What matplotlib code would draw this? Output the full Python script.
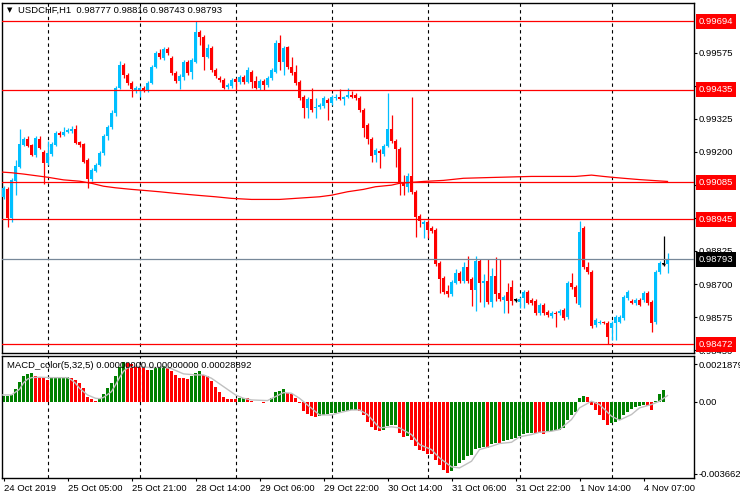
import numpy as np
import matplotlib
matplotlib.use('Agg')
import matplotlib.pyplot as plt
import matplotlib.transforms as mtransforms

plt.rcParams['font.family'] = ['Liberation Sans', 'DejaVu Sans']
plt.rcParams['font.size'] = 6.8

# USDCHF H1 candles
opens = [
    0.99029, 0.99059, 0.98949, 0.99089, 0.99142, 0.99225, 0.99248, 0.99225, 0.99188, 0.99248,
    0.99199, 0.99157, 0.99191, 0.99225, 0.99271, 0.99263, 0.99274, 0.99278, 0.99286, 0.99237,
    0.99229, 0.99169, 0.99097, 0.99127, 0.99150, 0.99195, 0.99259, 0.99293, 0.99346, 0.99441,
    0.99528, 0.99490, 0.99460, 0.99429, 0.99433, 0.99441, 0.99429, 0.99460, 0.99520, 0.99573,
    0.99554, 0.99588, 0.99554, 0.99497, 0.99467, 0.99482, 0.99539, 0.99501, 0.99539, 0.99652,
    0.99634, 0.99558, 0.99592, 0.99509, 0.99479, 0.99471, 0.99445, 0.99448, 0.99475, 0.99463,
    0.99482, 0.99463, 0.99501, 0.99467, 0.99441, 0.99467, 0.99452, 0.99479, 0.99501, 0.99611,
    0.99539, 0.99596, 0.99520, 0.99501, 0.99463, 0.99407, 0.99365, 0.99399, 0.99365, 0.99369,
    0.99373, 0.99395, 0.99384, 0.99403, 0.99407, 0.99399, 0.99407, 0.99414, 0.99414, 0.99403,
    0.99358, 0.99301, 0.99248, 0.99188, 0.99203, 0.99191, 0.99222, 0.99286, 0.99240, 0.99210,
    0.99085, 0.99067, 0.99108, 0.99048, 0.98957, 0.98927, 0.98934, 0.98912, 0.98904, 0.98779,
    0.98723, 0.98673, 0.98662, 0.98704, 0.98741, 0.98711, 0.98764, 0.98719, 0.98677, 0.98787,
    0.98704, 0.98711, 0.98632, 0.98730, 0.98666, 0.98639, 0.98670, 0.98689, 0.98639, 0.98632,
    0.98647, 0.98670, 0.98639, 0.98636, 0.98590, 0.98620, 0.98594, 0.98579, 0.98590, 0.98590,
    0.98602, 0.98575, 0.98704, 0.98689, 0.98620, 0.98912, 0.98764, 0.98745, 0.98545, 0.98553,
    0.98556, 0.98553, 0.98534, 0.98553, 0.98556, 0.98571, 0.98647, 0.98636, 0.98628, 0.98639,
    0.98639, 0.98666, 0.98632, 0.98556, 0.98745, 0.98776, 0.98777]
closes = [
    0.99063, 0.98949, 0.99093, 0.99146, 0.99229, 0.99248, 0.99222, 0.99188, 0.99252, 0.99214,
    0.99157, 0.99195, 0.99229, 0.99271, 0.99263, 0.99274, 0.99282, 0.99286, 0.99233, 0.99225,
    0.99161, 0.99097, 0.99131, 0.99150, 0.99195, 0.99259, 0.99293, 0.99346, 0.99441, 0.99528,
    0.99490, 0.99460, 0.99437, 0.99441, 0.99441, 0.99433, 0.99460, 0.99520, 0.99573, 0.99558,
    0.99588, 0.99573, 0.99497, 0.99467, 0.99486, 0.99539, 0.99497, 0.99547, 0.99652, 0.99634,
    0.99558, 0.99592, 0.99509, 0.99486, 0.99471, 0.99441, 0.99452, 0.99471, 0.99463, 0.99482,
    0.99463, 0.99509, 0.99463, 0.99441, 0.99467, 0.99452, 0.99479, 0.99509, 0.99611, 0.99539,
    0.99592, 0.99520, 0.99497, 0.99460, 0.99403, 0.99365, 0.99399, 0.99358, 0.99369, 0.99377,
    0.99403, 0.99384, 0.99407, 0.99407, 0.99399, 0.99407, 0.99414, 0.99407, 0.99403, 0.99358,
    0.99290, 0.99248, 0.99184, 0.99206, 0.99195, 0.99222, 0.99286, 0.99240, 0.99210, 0.99078,
    0.99070, 0.99108, 0.99048, 0.98953, 0.98938, 0.98934, 0.98904, 0.98900, 0.98776, 0.98719,
    0.98670, 0.98662, 0.98707, 0.98741, 0.98711, 0.98764, 0.98711, 0.98677, 0.98787, 0.98704,
    0.98711, 0.98632, 0.98730, 0.98662, 0.98643, 0.98651, 0.98636, 0.98636, 0.98639, 0.98643,
    0.98670, 0.98628, 0.98628, 0.98590, 0.98620, 0.98590, 0.98583, 0.98590, 0.98586, 0.98598,
    0.98571, 0.98704, 0.98689, 0.98651, 0.98896, 0.98764, 0.98745, 0.98541, 0.98564, 0.98556,
    0.98553, 0.98500, 0.98553, 0.98575, 0.98575, 0.98651, 0.98670, 0.98628, 0.98639, 0.98620,
    0.98666, 0.98628, 0.98553, 0.98745, 0.98779, 0.98776, 0.98793]
highs = [
    0.99070, 0.99067, 0.99101, 0.99169, 0.99286, 0.99256, 0.99259, 0.99229, 0.99259, 0.99259,
    0.99206, 0.99240, 0.99237, 0.99278, 0.99278, 0.99293, 0.99290, 0.99297, 0.99301, 0.99240,
    0.99233, 0.99176, 0.99138, 0.99157, 0.99203, 0.99267, 0.99301, 0.99358, 0.99448, 0.99543,
    0.99535, 0.99497, 0.99467, 0.99448, 0.99448, 0.99448, 0.99467, 0.99528, 0.99581, 0.99588,
    0.99596, 0.99596, 0.99562, 0.99505, 0.99494, 0.99547, 0.99547, 0.99554, 0.99694, 0.99660,
    0.99641, 0.99607, 0.99600, 0.99516, 0.99486, 0.99479, 0.99460, 0.99479, 0.99479, 0.99490,
    0.99490, 0.99520, 0.99509, 0.99486, 0.99475, 0.99475, 0.99486, 0.99516, 0.99622, 0.99641,
    0.99600, 0.99600, 0.99558, 0.99528, 0.99471, 0.99414, 0.99407, 0.99441, 0.99403, 0.99384,
    0.99411, 0.99403, 0.99414, 0.99418, 0.99437, 0.99411, 0.99441, 0.99429, 0.99422, 0.99411,
    0.99365, 0.99309, 0.99256, 0.99214, 0.99210, 0.99229, 0.99422, 0.99339, 0.99248, 0.99218,
    0.99112, 0.99119, 0.99407, 0.99055, 0.98965, 0.98942, 0.98942, 0.98919, 0.98912, 0.98787,
    0.98730, 0.98696, 0.98715, 0.98757, 0.98749, 0.98783, 0.98806, 0.98726, 0.98806, 0.98794,
    0.98738, 0.98794, 0.98760, 0.98802, 0.98794, 0.98658, 0.98704, 0.98715, 0.98647, 0.98651,
    0.98677, 0.98677, 0.98647, 0.98643, 0.98628, 0.98628, 0.98602, 0.98598, 0.98598, 0.98605,
    0.98609, 0.98711, 0.98741, 0.98696, 0.98938, 0.98919, 0.98783, 0.98753, 0.98571, 0.98564,
    0.98560, 0.98560, 0.98560, 0.98583, 0.98583, 0.98658, 0.98677, 0.98643, 0.98647, 0.98647,
    0.98673, 0.98673, 0.98639, 0.98753, 0.98787, 0.98881, 0.98816]
lows = [
    0.99021, 0.98915, 0.98934, 0.99036, 0.99138, 0.99222, 0.99218, 0.99184, 0.99180, 0.99210,
    0.99078, 0.99150, 0.99184, 0.99222, 0.99256, 0.99259, 0.99271, 0.99271, 0.99229, 0.99218,
    0.99157, 0.99063, 0.99089, 0.99123, 0.99146, 0.99188, 0.99244, 0.99286, 0.99335, 0.99437,
    0.99479, 0.99452, 0.99407, 0.99422, 0.99407, 0.99426, 0.99426, 0.99456, 0.99516, 0.99550,
    0.99547, 0.99566, 0.99490, 0.99460, 0.99437, 0.99471, 0.99490, 0.99475, 0.99535, 0.99603,
    0.99509, 0.99554, 0.99501, 0.99479, 0.99463, 0.99437, 0.99437, 0.99441, 0.99433, 0.99456,
    0.99456, 0.99460, 0.99441, 0.99437, 0.99433, 0.99433, 0.99445, 0.99471, 0.99497, 0.99509,
    0.99490, 0.99513, 0.99490, 0.99452, 0.99395, 0.99327, 0.99327, 0.99350, 0.99327, 0.99361,
    0.99365, 0.99320, 0.99377, 0.99395, 0.99395, 0.99377, 0.99403, 0.99403, 0.99395, 0.99350,
    0.99256, 0.99229, 0.99161, 0.99161, 0.99138, 0.99184, 0.99218, 0.99233, 0.99142, 0.99036,
    0.99036, 0.99048, 0.99040, 0.98878, 0.98915, 0.98874, 0.98874, 0.98893, 0.98768, 0.98666,
    0.98662, 0.98651, 0.98655, 0.98700, 0.98704, 0.98704, 0.98704, 0.98617, 0.98598, 0.98632,
    0.98613, 0.98624, 0.98613, 0.98636, 0.98636, 0.98590, 0.98590, 0.98620, 0.98632, 0.98609,
    0.98609, 0.98624, 0.98620, 0.98583, 0.98583, 0.98583, 0.98575, 0.98571, 0.98537, 0.98583,
    0.98564, 0.98568, 0.98681, 0.98628, 0.98613, 0.98757, 0.98738, 0.98534, 0.98537, 0.98549,
    0.98549, 0.98472, 0.98488, 0.98488, 0.98553, 0.98564, 0.98639, 0.98624, 0.98620, 0.98617,
    0.98632, 0.98620, 0.98518, 0.98549, 0.98738, 0.98768, 0.98743]

# moving average (knots read at bar positions)
ma_bar = [-1, 2, 5, 7, 11, 15, 19, 22, 25, 28, 32, 36, 39, 43, 49, 53, 57, 62, 69, 73,
          79, 82, 86, 90, 93, 97, 99, 105, 110, 115, 122, 132, 143, 147, 150, 152, 155, 159, 162, 166]
ma_val = [0.99124, 0.99121, 0.99116, 0.99112, 0.99104, 0.99094, 0.99089, 0.99081, 0.99070, 0.99064,
          0.99058, 0.99053, 0.99049, 0.99043, 0.99035, 0.99030, 0.99024, 0.99020, 0.99020, 0.99024,
          0.99030, 0.99036, 0.99049, 0.99058, 0.99068, 0.99074, 0.99081, 0.99088, 0.99092, 0.99100,
          0.99103, 0.99107, 0.99107, 0.99112, 0.99107, 0.99104, 0.99100, 0.99095, 0.99092, 0.99088]

levels = [0.99694, 0.99435, 0.99085, 0.98945, 0.98472]
price_ticks = [0.99575, 0.99450, 0.99325, 0.99200, 0.99075, 0.98950, 0.98825, 0.98700, 0.98575, 0.98450]

# MACD_color(5,32,5) histogram and signal
macd_hist = [
    0.00029, 0.00029, 0.00030, 0.00059, 0.00093, 0.00123, 0.00131, 0.00136, 0.00125, 0.00120,
    0.00112, 0.00104, 0.00115, 0.00117, 0.00118, 0.00118, 0.00120, 0.00112, 0.00104, 0.00088,
    0.00064, 0.00024, 0.00011, 0.00005, 0.00016, 0.00037, 0.00064, 0.00088, 0.00125, 0.00168,
    0.00189, 0.00184, 0.00179, 0.00171, 0.00165, 0.00160, 0.00152, 0.00153, 0.00160, 0.00168,
    0.00171, 0.00163, 0.00147, 0.00128, 0.00115, 0.00112, 0.00109, 0.00125, 0.00136, 0.00147,
    0.00128, 0.00125, 0.00099, 0.00072, 0.00048, 0.00024, 0.00013, 0.00012, 0.00011, 0.00016,
    0.00019, 0.00016, 0.00005, -0.00003, -0.00004, -0.00005, 0.00000, 0.00019, 0.00048, 0.00053,
    0.00059, 0.00043, 0.00035, 0.00016, -0.00008, -0.00045, -0.00061, -0.00067, -0.00072, -0.00069,
    -0.00064, -0.00061, -0.00056, -0.00053, -0.00048, -0.00045, -0.00043, -0.00042, -0.00040, -0.00043,
    -0.00064, -0.00096, -0.00121, -0.00134, -0.00139, -0.00134, -0.00115, -0.00112, -0.00110, -0.00150,
    -0.00169, -0.00167, -0.00182, -0.00214, -0.00233, -0.00236, -0.00249, -0.00251, -0.00278, -0.00305,
    -0.00329, -0.00342, -0.00334, -0.00310, -0.00294, -0.00278, -0.00259, -0.00256, -0.00227, -0.00224,
    -0.00217, -0.00222, -0.00201, -0.00198, -0.00199, -0.00190, -0.00182, -0.00179, -0.00174, -0.00166,
    -0.00153, -0.00152, -0.00150, -0.00151, -0.00152, -0.00154, -0.00141, -0.00139, -0.00138, -0.00134,
    -0.00128, -0.00086, -0.00066, -0.00051, 0.00018, 0.00029, 0.00024, -0.00016, -0.00040, -0.00064,
    -0.00088, -0.00112, -0.00101, -0.00099, -0.00088, -0.00066, -0.00048, -0.00035, -0.00024, -0.00021,
    -0.00016, -0.00021, -0.00040, 0.00002, 0.00035, 0.00056, 0.0]
sig_bar = [-1, 2, 4, 5, 6, 7, 9, 12, 16, 17, 18, 19, 21, 23, 24, 25, 27, 28, 29,
           30, 31, 33, 35, 37, 40, 42, 45, 48, 50, 52, 55, 58, 60, 62, 66, 68, 70, 72, 74,
           77, 79, 82, 84, 87, 89, 91, 94, 97, 99, 102, 104, 107, 109, 112, 114, 117, 119, 122, 124,
           127, 129, 132, 134, 137, 139, 142, 144, 147, 149, 152, 154, 157, 159, 162, 164, 166]
sig_val = [0.00032, 0.00032, 0.00059, 0.00090, 0.00108, 0.00115, 0.00117, 0.00115, 0.00115,
           0.00104, 0.00088, 0.00064, 0.00032, 0.00016, 0.00014, 0.00020, 0.00048, 0.00080, 0.00115,
           0.00145, 0.00162, 0.00170, 0.00166, 0.00163, 0.00165, 0.00158, 0.00133, 0.00128, 0.00128,
           0.00112, 0.00072, 0.00032, 0.00016, 0.00008, 0.00005, 0.00024, 0.00043, 0.00040, 0.00016,
           -0.00032, -0.00064, -0.00064, -0.00053, -0.00040, -0.00040, -0.00062, -0.00126, -0.00121, -0.00126,
           -0.00158, -0.00206, -0.00230, -0.00270, -0.00313, -0.00318, -0.00286, -0.00230, -0.00214, -0.00201,
           -0.00195, -0.00169, -0.00158, -0.00147, -0.00142, -0.00134, -0.00086, -0.00030, 0.00002, -0.00014,
           -0.00070, -0.00089, -0.00062, -0.00030, -0.00014, 0.00002, 0.00029]

label_bars = [0, 16, 32, 48, 64, 80, 96, 112, 128, 144, 160]
label_texts = ['24 Oct 2019', '25 Oct 05:00', '25 Oct 21:00', '28 Oct 14:00', '29 Oct 06:00',
               '29 Oct 22:00', '30 Oct 14:00', '31 Oct 06:00', '31 Oct 22:00', '1 Nov 14:00', '4 Nov 07:00']
grid_bars = [11, 34, 58, 82, 106, 129, 152]

o = np.array(opens); c = np.array(closes); h = np.array(highs); l = np.array(lows)
idx = np.arange(len(c))
BLUE = '#00bfff'
RED = '#ff0000'
col = np.where(c > o, BLUE, np.where(c < o, RED, 'black'))

fig = plt.figure(figsize=(7.4, 5.0), dpi=100)
ax = fig.add_axes([2/740, 147/500, 692/740, 350.5/500])
ax2 = fig.add_axes([2/740, 22/500, 692/740, 122/500])

for a in (ax, ax2):
    a.set_xlim(-0.375, 172.625)
    for g in grid_bars:
        a.axvline(g, color='black', lw=0.8, ls=(0, (3, 3)), zorder=1)
    for s in a.spines.values():
        s.set_color('black')
        s.set_linewidth(1)

# candles
ax.vlines(idx, l, h, colors=col, lw=0.9, zorder=2)
body = np.maximum(np.abs(c - o), 0.00003)
ax.bar(idx, body, bottom=np.minimum(o, c), width=0.7, color=col, lw=0, zorder=3)
doji = c == o
ax.hlines(c[doji], idx[doji] - 0.4, idx[doji] + 0.4, colors='black', lw=1, zorder=3)

ax.plot(ma_bar, ma_val, color=RED, lw=0.9, zorder=4)
for lv in levels:
    ax.axhline(lv, color=RED, lw=0.9, zorder=4)
ax.axhline(c[-1], color='#778899', lw=0.9, zorder=4)

ax.set_ylim(0.98439, 0.99765)
ax.set_xticks([])
ax.yaxis.tick_right()
ax.set_yticks(price_ticks)
ax.set_yticklabels([f'{t:.5f}' for t in price_ticks])
ax.tick_params(axis='y', length=2.5, width=0.8, pad=1, labelsize=6.8)

trans = mtransforms.blended_transform_factory(ax.transAxes, ax.transData)
for lv in levels:
    ax.text(1.0065, lv, f'{lv:.5f}', transform=trans, ha='left', va='center', color='white',
            fontsize=6.8, clip_on=False, zorder=10,
            bbox=dict(boxstyle='square,pad=0.3', fc=RED, ec='none'))
ax.text(1.0065, c[-1], f'{c[-1]:.5f}', transform=trans, ha='left', va='center', color='white',
        fontsize=6.8, clip_on=False, zorder=10,
        bbox=dict(boxstyle='square,pad=0.3', fc='black', ec='none'))

fig.text(7/740, 1 - 10/500, '\u25bc', fontsize=5, va='center', family='DejaVu Sans')
fig.text(18/740, 1 - 10/500,
         f'USDCHF,H1  {o[-1]:.5f} {h[-1]:.5f} {l[-1]:.5f} {c[-1]:.5f}', va='center')

# MACD pane
hv = np.array(macd_hist)
prev = np.concatenate([[hv[0] - 1], hv[:-1]])
hcol = np.where(hv >= prev, '#008000', RED)
ax2.bar(idx, hv, width=0.7, color=hcol, lw=0, zorder=2)
ax2.plot(sig_bar, sig_val, color='#c0c0c0', lw=1, zorder=3)
ax2.set_ylim(-0.003663, 0.002187)
ax2.yaxis.tick_right()
ax2.set_yticks([0.00180, 0.0, -0.00347])
ax2.set_yticklabels(['0.0021879', '0.00', '-0.003662'])
ax2.tick_params(axis='y', length=2.5, width=0.8, pad=1, labelsize=6.8)
ax2.set_xticks(label_bars)
ax2.set_xticklabels(label_texts, ha='left')
ax2.tick_params(axis='x', length=2.5, width=0.8, pad=2, labelsize=6.8)
fig.text(7/740, 1 - 365/500, 'MACD_color(5,32,5) 0.00000000 0.00000000 0.00028892', va='center')

fig.savefig('out.png', dpi=100)
